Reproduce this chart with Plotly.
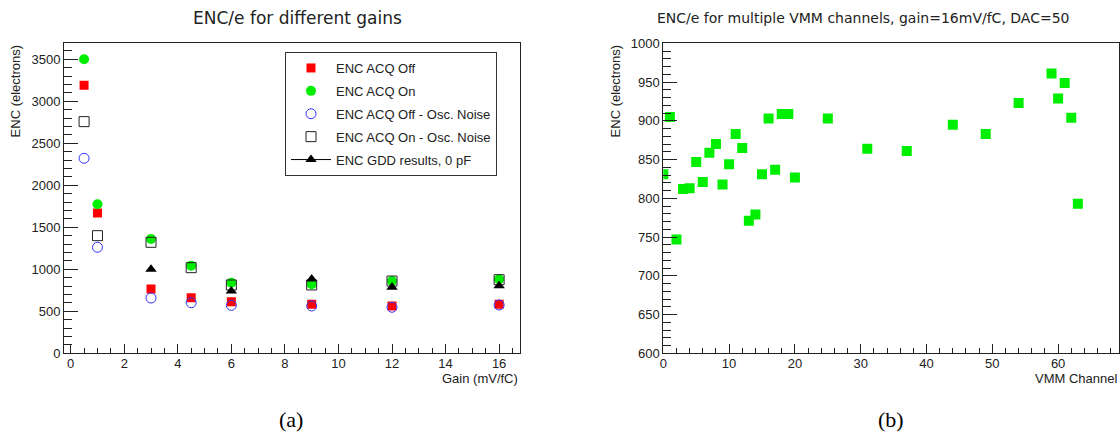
import plotly.graph_objects as go

# ---------------- data ----------------
gain = [0.5, 1, 3, 4.5, 6, 9, 12, 16]
enc_acq_off = [3190, 1670, 765, 662, 614, 583, 563, 583]
enc_acq_on = [3500, 1774, 1361, 1043, 840, 821, 860, 881]
enc_acq_off_osc = [2321, 1262, 658, 602, 571, 563, 548, 575]
enc_acq_on_osc = [2757, 1400, 1321, 1019, 813, 813, 860, 876]
gdd_gain = [3, 6, 9, 12, 16]
gdd_enc = [1000, 742, 885, 786, 805]

channels = [0, 1, 2, 3, 4, 5, 6, 7, 8, 9, 10, 11, 12, 13, 14, 15, 16, 17, 18, 19,
            20, 25, 31, 37, 44, 49, 54, 59, 60, 61, 62, 63]
enc_channels = [831, 905, 747, 812, 813, 847, 821, 859, 870, 818, 844, 883, 865, 771,
                779, 831, 903, 837, 909, 909, 827, 903, 864, 861, 895, 883, 923, 961,
                929, 949, 904, 793]

FONT = "Liberation Sans, Arial, Helvetica, sans-serif"
TFONT = "DejaVu Sans, Liberation Sans, Arial, sans-serif"
SERIF = "Liberation Serif, Times New Roman, serif"
INK = "#222222"

fig = go.Figure()

# ---------------- left panel ----------------
fig.add_trace(go.Scatter(x=gain, y=enc_acq_off, mode="markers", name="ENC ACQ Off",
                         legendgroup="a",
                         marker=dict(symbol="square", size=9, color="#ff0000"),
                         xaxis="x", yaxis="y"))
fig.add_trace(go.Scatter(x=gain, y=enc_acq_on, mode="markers", name="ENC ACQ On",
                         legendgroup="b",
                         marker=dict(symbol="circle", size=10, color="#00ee00"),
                         xaxis="x", yaxis="y"))
fig.add_trace(go.Scatter(x=gain, y=enc_acq_off_osc, mode="markers",
                         name="ENC ACQ Off - Osc. Noise", legendgroup="c",
                         marker=dict(symbol="circle-open", size=10, color="#3333ff",
                                     line=dict(width=1)),
                         xaxis="x", yaxis="y"))
fig.add_trace(go.Scatter(x=gain, y=enc_acq_on_osc, mode="markers",
                         name="ENC ACQ On - Osc. Noise", legendgroup="d",
                         marker=dict(symbol="square-open", size=10, color=INK,
                                     line=dict(width=1)),
                         xaxis="x", yaxis="y"))
fig.add_trace(go.Scatter(x=gdd_gain, y=gdd_enc, mode="markers",
                         name="ENC GDD results, 0 pF", legendgroup="e", showlegend=False,
                         marker=dict(symbol="triangle-up", size=10, color="black"),
                         xaxis="x", yaxis="y"))
# legend entry for GDD (line + marker, as in the original legend)
fig.add_trace(go.Scatter(x=[None], y=[None], mode="lines+markers",
                         name="ENC GDD results, 0 pF", legendgroup="e",
                         line=dict(color="black", width=1),
                         marker=dict(symbol="triangle-up", size=10, color="black"),
                         xaxis="x", yaxis="y"))

# ---------------- right panel ----------------
fig.add_trace(go.Scatter(x=channels, y=enc_channels, mode="markers", showlegend=False,
                         marker=dict(symbol="square", size=10, color="#00ee00"),
                         xaxis="x2", yaxis="y2"))

ax_common = dict(showline=True, linecolor=INK, linewidth=1, mirror=True,
                 ticks="inside", tickcolor=INK, showgrid=False, zeroline=False,
                 automargin=False,
                 tickfont=dict(family=FONT, size=13, color=INK))

ydom = [1 - 353.3 / 435, 1 - 43.4 / 435]

fig.update_layout(
    template="none",
    width=1120, height=435,
    margin=dict(l=0, r=0, t=0, b=0, autoexpand=False),
    paper_bgcolor="white", plot_bgcolor="white",
    font=dict(family=FONT, color=INK),
    xaxis=dict(domain=[64 / 1120, 520 / 1120], range=[-0.25, 16.78], dtick=2, tick0=0,
               ticklen=9, ticklabelstandoff=-2,
               minor=dict(dtick=0.5, ticks="inside", ticklen=5,
                          tickcolor=INK, showgrid=False),
               anchor="y", **ax_common),
    yaxis=dict(domain=ydom, range=[0, 3688], dtick=500, tick0=0, ticklen=14,
               minor=dict(dtick=100, ticks="inside", ticklen=8, tickcolor=INK,
                          showgrid=False),
               anchor="x", **ax_common),
    xaxis2=dict(domain=[663.3 / 1120, 1119.3 / 1120], range=[0, 69.3], dtick=10, tick0=0,
                ticklen=9, ticklabelstandoff=-2,
                minor=dict(dtick=2, ticks="inside", ticklen=5,
                           tickcolor=INK, showgrid=False),
                anchor="y2", **ax_common),
    yaxis2=dict(domain=ydom, range=[600, 1000], dtick=50, tick0=0, ticklen=14,
                minor=dict(dtick=10, ticks="inside", ticklen=8, tickcolor=INK,
                           showgrid=False),
                anchor="x2", **ax_common),
    legend=dict(x=285 / 1120, y=1 - 52 / 435, xanchor="left", yanchor="top",
                bgcolor="white", bordercolor="#333333", borderwidth=1,
                font=dict(family=FONT, size=13, color=INK),
                tracegroupgap=3, itemwidth=40),
    showlegend=True,
)

annotations = [
    dict(text="ENC/e for different gains", x=297 / 1120, y=1 - 18 / 435,
         font=dict(family=TFONT, size=17, color=INK)),
    dict(text="ENC/e for multiple VMM channels, gain=16mV/fC, DAC=50", x=863 / 1120,
         y=1 - 18 / 435, font=dict(family=TFONT, size=14, color=INK)),
    dict(text="ENC (electrons)", x=15 / 1120, y=1 - 43.4 / 435, yanchor="top",
         textangle=-90, font=dict(family=FONT, size=13, color=INK)),
    dict(text="ENC (electrons)", x=615 / 1120, y=1 - 43.4 / 435, yanchor="top",
         textangle=-90, font=dict(family=FONT, size=13, color=INK)),
    dict(text="Gain (mV/fC)", x=520 / 1120, y=1 - 378 / 435, xanchor="right",
         font=dict(family=FONT, size=13, color=INK)),
    dict(text="VMM Channel", x=1118.5 / 1120, y=1 - 378 / 435, xanchor="right",
         font=dict(family=FONT, size=13, color=INK)),
    dict(text="(a)", x=291 / 1120, y=1 - 419 / 435,
         font=dict(family=SERIF, size=22, color="black")),
    dict(text="(b)", x=891 / 1120, y=1 - 419 / 435,
         font=dict(family=SERIF, size=22, color="black")),
]
for a in annotations:
    a.setdefault("xanchor", "center")
    a.setdefault("yanchor", "middle")
    a.update(xref="paper", yref="paper", showarrow=False)
fig.update_layout(annotations=annotations)

fig.write_html("out.html",
               config={"displayModeBar": False},
               post_script="document.body.style.margin='0';"
                           "document.body.style.overflow='hidden';")
